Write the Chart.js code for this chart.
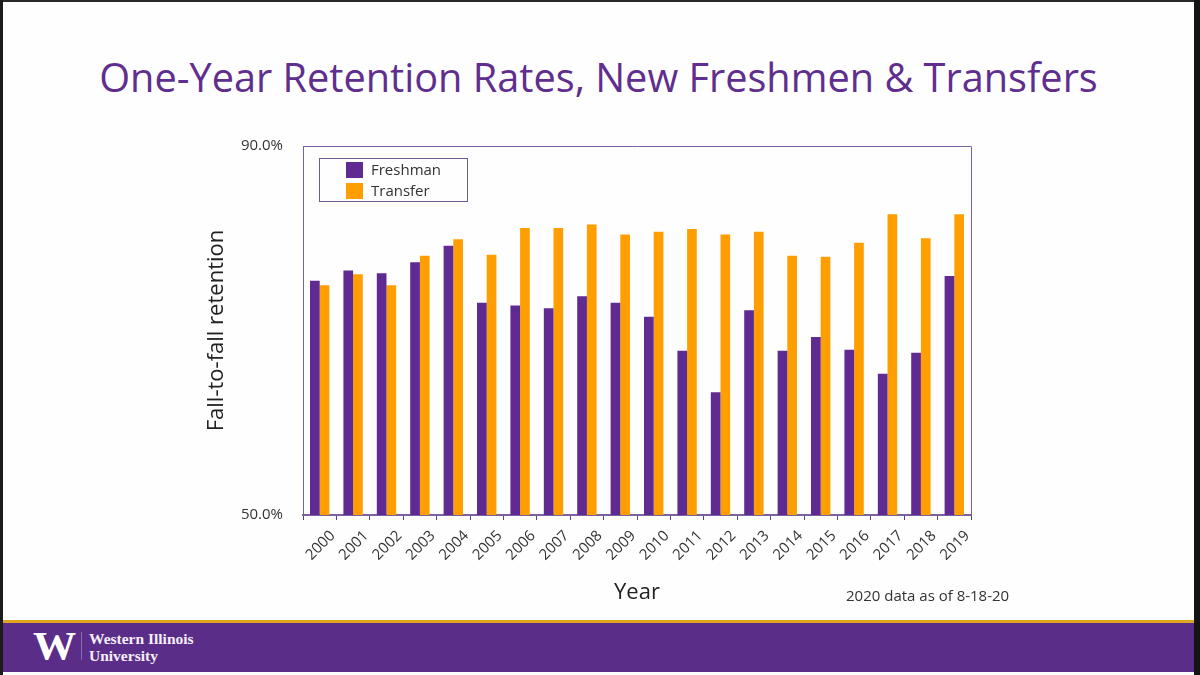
<!DOCTYPE html>
<html>
<head>
<meta charset="utf-8">
<title>One-Year Retention Rates</title>
<script src="https://cdn.jsdelivr.net/npm/chart.js@4"></script>
<style>
    html, body { margin: 0; padding: 0; background: #000; }
    #page { position: relative; width: 1200px; height: 675px; overflow: hidden; background: #fefefe; font-family: 'Open Sans', sans-serif; }
    #page div { position: absolute; white-space: nowrap; }
    #edgeTop { left: 0; top: 0; width: 1200px; height: 2px; background: #26282a; }
    #edgeLeft { left: 0; top: 0; width: 3px; height: 675px; background: #1c1c1c; }
    #edgeRight { left: 1194px; top: 0; width: 6px; height: 675px; background: #141414; }
    #title { left: 3px; width: 1191px; top: 51px; text-align: center; font-size: 39.7px; line-height: 52px; color: #5f2e8e; }
    #chartBox { left: 0; top: 0; width: 1200px; height: 675px; }
    #legend { left: 319px; top: 158px; width: 149px; height: 44px; border: 1px solid #6f5c8f; box-sizing: border-box; }
    .swatch { left: 26px; width: 17px; height: 16px; }
    .legendText { left: 51px; font-size: 15px; line-height: 20px; color: #333; }
    #note { left: 846px; top: 585px; font-size: 15px; line-height: 20px; color: #333; }
    #goldLine { left: 3px; top: 620px; width: 1191px; height: 3px; background: #e0a520; }
    #band { left: 3px; top: 623px; width: 1191px; height: 49px; background: #5a2d88; }
    #logoW { left: 33px; top: 626px; font-family: 'Liberation Serif', serif; font-weight: bold; font-size: 40px; line-height: 40px; color: #fff; transform: scaleX(1.08); transform-origin: left top; }
    #logoRule { left: 81px; top: 632px; width: 1px; height: 28px; background: #8a6bab; }
    #logoText { left: 89px; top: 630px; font-family: 'Liberation Serif', serif; font-weight: bold; font-size: 15.5px; line-height: 17px; color: #f4eff8; }
</style>
</head>
<body>
<div id="page">
    <div id="title">One-Year Retention Rates, New Freshmen &amp; Transfers</div>
    <div id="chartBox"><canvas id="retentionChart" width="1200" height="675"></canvas></div>
    <div id="legend"></div>
    <div id="note">2020 data as of 8-18-20</div>
    <div id="goldLine"></div>
    <div id="band"></div>
    <div id="logoW">W</div>
    <div id="logoRule"></div>
    <div id="logoText">Western Illinois<br>University</div>
    <div id="edgeTop"></div>
    <div id="edgeLeft"></div>
    <div id="edgeRight"></div>
</div>
<script>
const years = ['2000', '2001', '2002', '2003', '2004', '2005', '2006', '2007', '2008', '2009',
    '2010', '2011', '2012', '2013', '2014', '2015', '2016', '2017', '2018', '2019'];
const freshman = [75.4, 76.5, 76.2, 77.4, 79.2, 73.0, 72.7, 72.4, 73.7, 73.0,
    71.5, 67.8, 63.3, 72.2, 67.8, 69.3, 67.9, 65.3, 67.6, 75.9];
const transfer = [74.9, 76.1, 74.9, 78.1, 79.9, 78.2, 81.1, 81.1, 81.5, 80.4,
    80.7, 81.0, 80.4, 80.7, 78.1, 78.0, 79.5, 82.6, 80.0, 82.6];
const yTicks = [50, 90];

const PURPLE = '#5f2a91';
const ORANGE = '#ff9e00';
const FRAME = '#7a62a0';
const TEXT = '#333333';

// top and right sides of the plot frame
const framePlugin = {
    id: 'frame',
    afterDatasetsDraw(chart) {
        const { ctx, chartArea: a } = chart;
        ctx.save();
        ctx.strokeStyle = FRAME;
        ctx.lineWidth = 1;
        ctx.beginPath();
        ctx.moveTo(a.left, a.top + 0.5);
        ctx.lineTo(a.right + 0.5, a.top + 0.5);
        ctx.lineTo(a.right + 0.5, a.bottom);
        ctx.stroke();
        ctx.restore();
    }
};

const chart = new Chart(document.getElementById('retentionChart'), {
    type: 'bar',
    data: {
        labels: years,
        datasets: [
            { label: 'Freshman', data: freshman, backgroundColor: PURPLE },
            { label: 'Transfer', data: transfer, backgroundColor: ORANGE }
        ]
    },
    options: {
        responsive: false,
        animation: false,
        devicePixelRatio: 1,
        layout: { padding: { left: 204, right: 229, top: 146, bottom: 69 } },
        datasets: { bar: { barPercentage: 1, categoryPercentage: 0.58 } },
        plugins: { legend: { display: false }, tooltip: { enabled: false } },
        scales: {
            x: {
                afterFit: s => { s.height = 91; },
                border: { color: FRAME, width: 2 },
                grid: { drawOnChartArea: false, color: '#55437a', tickLength: 5 },
                ticks: { color: TEXT, font: { family: 'Open Sans', size: 15 }, minRotation: 45, maxRotation: 45, padding: 7, labelOffset: 13 },
                title: { display: true, text: 'Year', color: '#222', font: { family: 'Open Sans', size: 22 }, padding: 0 }
            },
            y: {
                min: 50,
                max: 90,
                afterFit: s => { s.width = 99; },
                afterBuildTicks: s => { s.ticks = yTicks.map(value => ({ value })); },
                border: { color: FRAME, width: 1 },
                grid: { display: false },
                ticks: { color: TEXT, font: { family: 'Open Sans', size: 15 }, padding: 12, callback: v => v.toFixed(1) + '%' },
                title: { display: true, text: 'Fall-to-fall retention', color: '#222', font: { family: 'Open Sans', size: 22 }, padding: 0 }
            }
        }
    },
    plugins: [framePlugin]
});

// legend box, filled from the chart's own datasets
const legendBox = document.getElementById('legend');
chart.data.datasets.forEach((ds, i) => {
    const swatch = document.createElement('div');
    swatch.className = 'swatch';
    swatch.style.top = (3 + i * 21) + 'px';
    swatch.style.background = ds.backgroundColor;
    legendBox.appendChild(swatch);
    const text = document.createElement('div');
    text.className = 'legendText';
    text.style.top = (i * 21) + 'px';
    text.textContent = ds.label;
    legendBox.appendChild(text);
});
</script>
</body>
</html>
